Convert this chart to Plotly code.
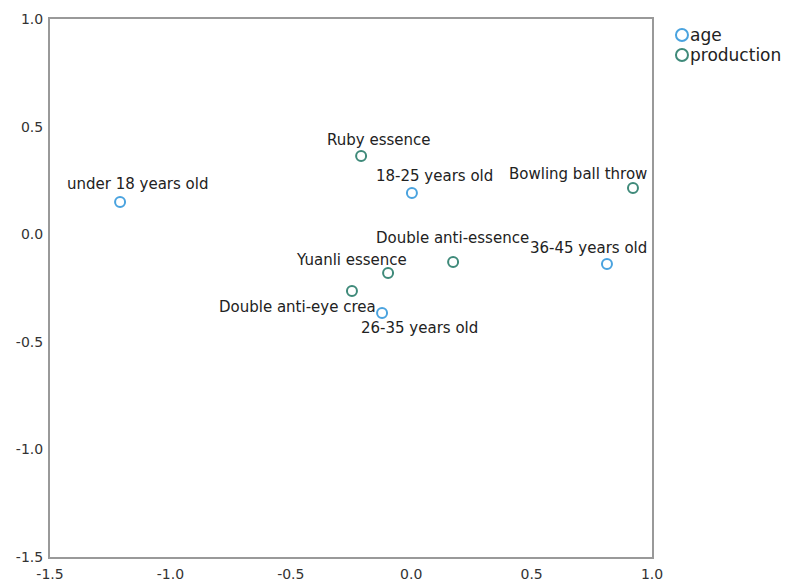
import plotly.graph_objects as go

age_labels = ["under 18 years old", "18-25 years old", "26-35 years old", "36-45 years old"]
age_x = [-1.209, 0.003, -0.121, 0.813]
age_y = [0.150, 0.191, -0.366, -0.138]

prod_labels = ["Ruby essence", "Bowling ball throw", "Double anti-essence", "Yuanli essence", "Double anti-eye crea"]
prod_x = [-0.208, 0.921, 0.174, -0.096, -0.246]
prod_y = [0.363, 0.215, -0.129, -0.180, -0.264]

legend_names = ["age", "production"]

x_ticks = [-1.5, -1.0, -0.5, 0.0, 0.5, 1.0]
y_ticks = [-1.5, -1.0, -0.5, 0.0, 0.5, 1.0]

AGE_COLOR = "#4aa3df"
PROD_COLOR = "#3f8a7a"
LABEL_FONT = dict(family="DejaVu Sans", size=15, color="#222")

# label offsets in pixels (dx, dy) — style only
age_offsets = {
    "under 18 years old": (17, 18),
    "18-25 years old": (23, 17),
    "26-35 years old": (37, -15),
    "36-45 years old": (-18, 16),
}
prod_offsets = {
    "Ruby essence": (18, 16),
    "Bowling ball throw": (-55, 14),
    "Double anti-essence": (-1, 24),
    "Yuanli essence": (-37, 13),
    "Double anti-eye crea": (-54, -16),
}

fig = go.Figure()
fig.add_trace(go.Scatter(
    x=age_x, y=age_y, mode="markers", name="age", showlegend=False,
    marker=dict(symbol="circle-open", size=10, color=AGE_COLOR, line=dict(width=2, color=AGE_COLOR)),
    hovertext=age_labels,
))
fig.add_trace(go.Scatter(
    x=prod_x, y=prod_y, mode="markers", name="production", showlegend=False,
    marker=dict(symbol="circle-open", size=10, color=PROD_COLOR, line=dict(width=2, color=PROD_COLOR)),
    hovertext=prod_labels,
))

annotations = []
for lbl, x, y in zip(age_labels, age_x, age_y):
    dx, dy = age_offsets[lbl]
    annotations.append(dict(x=x, y=y, text=lbl, showarrow=False, xshift=dx, yshift=dy, font=LABEL_FONT))
for lbl, x, y in zip(prod_labels, prod_x, prod_y):
    dx, dy = prod_offsets[lbl]
    annotations.append(dict(x=x, y=y, text=lbl, showarrow=False, xshift=dx, yshift=dy, font=LABEL_FONT))

# manual legend (compact symbol/text spacing like the reference)
shapes = []
leg_colors = [AGE_COLOR, PROD_COLOR]
leg_y = [0.9703, 0.9331]
for name, col, ly in zip(legend_names, leg_colors, leg_y):
    shapes.append(dict(type="circle", xref="paper", yref="paper",
                       xsizemode="pixel", ysizemode="pixel",
                       xanchor=1.0498, yanchor=ly, x0=-6, x1=6, y0=-6, y1=6,
                       line=dict(color=col, width=2), fillcolor="rgba(0,0,0,0)"))
    annotations.append(dict(xref="paper", yref="paper", x=1.0595, y=ly, text=name,
                            xanchor="left", yanchor="middle", showarrow=False,
                            font=dict(family="DejaVu Sans", size=17, color="#222")))

fig.update_layout(
    width=789, height=583,
    margin=dict(l=42, r=145, t=11, b=34),
    plot_bgcolor="white", paper_bgcolor="white",
    annotations=annotations,
    shapes=shapes,
    showlegend=False,
    xaxis=dict(range=[-1.5, 1.0], tickvals=x_ticks, ticktext=[f"{v:.1f}" for v in x_ticks],
               showgrid=False, zeroline=False, showline=True, mirror=True,
               linecolor="#999", linewidth=2, ticks="", automargin=False, ticklabelstandoff=3,
               tickfont=dict(family="DejaVu Sans", size=14, color="#333")),
    yaxis=dict(range=[-1.5, 1.0], tickvals=y_ticks, ticktext=[f"{v:.1f}" for v in y_ticks],
               showgrid=False, zeroline=False, showline=True, mirror=True,
               linecolor="#999", linewidth=2, ticks="", ticklabelstandoff=2, automargin=False,
               tickfont=dict(family="DejaVu Sans", size=14, color="#333")),
)

fig.write_html("out.html")
